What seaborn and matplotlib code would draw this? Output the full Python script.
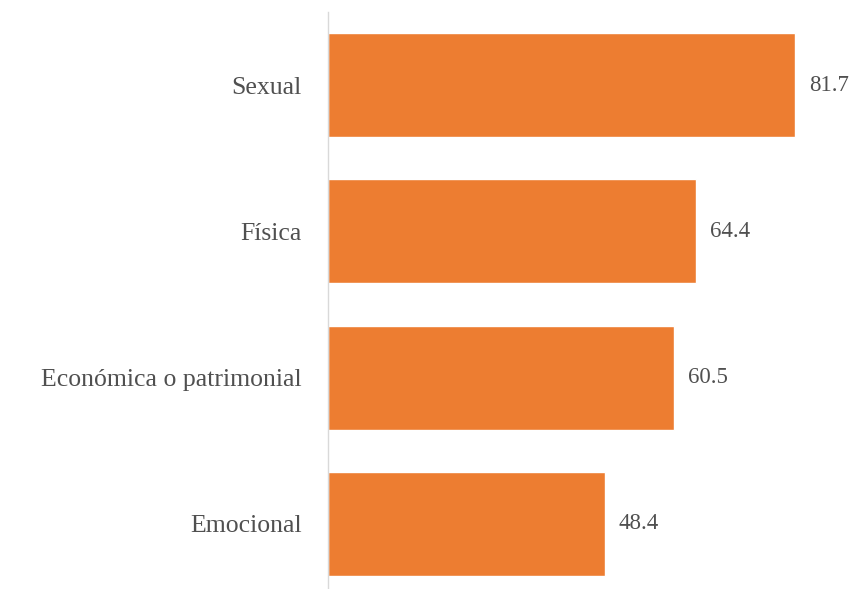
import seaborn as sns
import matplotlib.pyplot as plt
import pandas as pd

categories = ["Sexual", "Física", "Económica o patrimonial", "Emocional"]
values = [81.7, 64.4, 60.5, 48.4]

df = pd.DataFrame({"tipo": categories, "pct": values})

sns.set_style("white")
plt.rcParams["font.family"] = ["Liberation Serif", "DejaVu Serif"]

fig = plt.figure(figsize=(8.63, 5.89), dpi=100)
ax = fig.add_axes([328 / 863, -8 / 589, 571.6 / 863, 585 / 589])

sns.barplot(data=df, x="pct", y="tipo", orient="h", color="#ED7D31",
            saturation=1, width=0.71, ax=ax)

ax.set_xlim(0, 100)
ax.set_ylim(3.5, -0.5)
ax.set_xlabel("")
ax.set_ylabel("")
ax.set_xticks([])
for s in ["top", "right", "bottom"]:
    ax.spines[s].set_visible(False)
ax.spines["left"].set_color("#D9D9D9")
ax.spines["left"].set_linewidth(1)
ax.tick_params(axis="y", length=0, pad=19, labelsize=18.5, labelcolor="#505050")

for i, v in enumerate(values):
    ax.text(v + 2.5, i, f"{v:.1f}", va="center", ha="left", fontsize=16.5, color="#505050")

fig.savefig("out.png", dpi=100)
